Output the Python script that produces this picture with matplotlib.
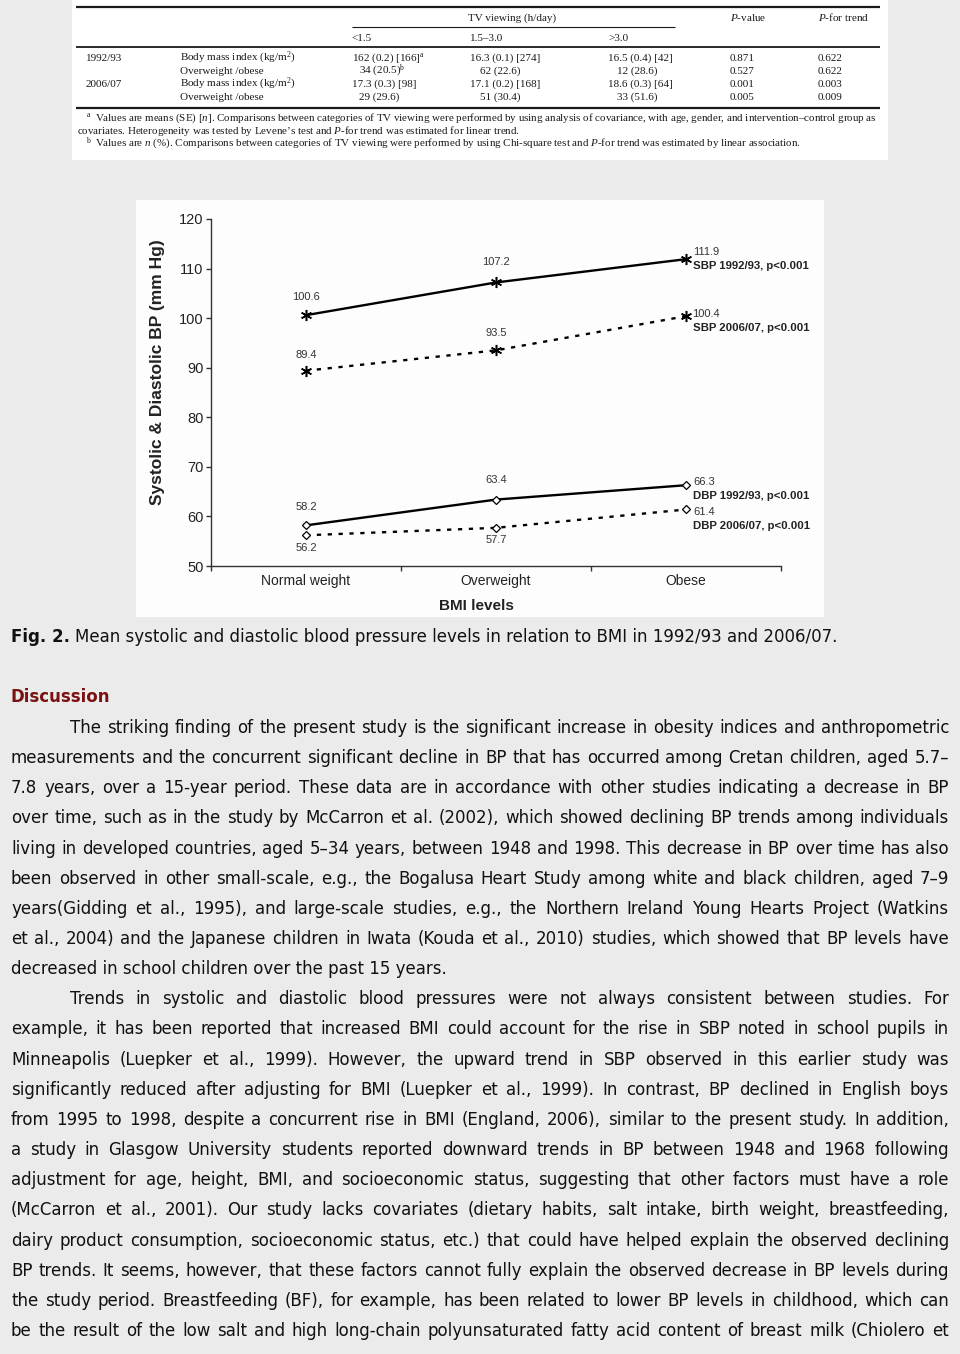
import matplotlib
matplotlib.use('Agg')
import matplotlib.pyplot as plt
from matplotlib.patches import Rectangle
from matplotlib.lines import Line2D

# ---------------- data ----------------
categories = ['Normal weight', 'Overweight', 'Obese']
sbp_1992 = [100.6, 107.2, 111.9]
sbp_2006 = [89.4, 93.5, 100.4]
dbp_1992 = [58.2, 63.4, 66.3]
dbp_2006 = [56.2, 57.7, 61.4]
series_names = ['SBP 1992/93, p<0.001', 'SBP 2006/07, p<0.001',
                'DBP 1992/93, p<0.001', 'DBP 2006/07, p<0.001']
y_ticks = [50, 60, 70, 80, 90, 100, 110, 120]

tv_groups = ['<1.5', '1.5\u20133.0', '>3.0']
table_rows = [
    ['1992/93', 'Body mass index (kg/m$^{2}$)', '162 (0.2) [166]$^{\\mathrm{a}}$', '16.3 (0.1) [274]', '16.5 (0.4) [42]', '0.871', '0.622'],
    ['', 'Overweight /obese', '34 (20.5)$^{\\mathrm{b}}$', '62 (22.6)', '12 (28.6)', '0.527', '0.622'],
    ['2006/07', 'Body mass index (kg/m$^{2}$)', '17.3 (0.3) [98]', '17.1 (0.2) [168]', '18.6 (0.3) [64]', '0.001', '0.003'],
    ['', 'Overweight /obese', '29 (29.6)', '51 (30.4)', '33 (51.6)', '0.005', '0.009'],
]

caption_bold = 'Fig. 2.'
caption_rest = 'Mean systolic and diastolic blood pressure levels in relation to BMI in 1992/93 and 2006/07.'
heading = 'Discussion'
body_lines = [
    "The striking finding of the present study is the significant increase in obesity indices and anthropometric",
    "measurements and the concurrent significant decline in BP that has occurred among Cretan children, aged 5.7\u2013",
    "7.8 years, over a 15-year period. These data are in accordance with other studies indicating a decrease in BP",
    "over time, such as in the study by McCarron et al. (2002), which showed declining BP trends among individuals",
    "living in developed countries, aged 5\u201334 years, between 1948 and 1998. This decrease in BP over time has also",
    "been observed in other small-scale, e.g., the Bogalusa Heart Study among white and black children, aged 7\u20139",
    "years(Gidding et al., 1995), and large-scale studies, e.g., the Northern Ireland Young Hearts Project (Watkins",
    "et al., 2004) and the Japanese children in Iwata (Kouda et al., 2010) studies, which showed that BP levels have",
    "decreased in school children over the past 15 years.",
    "Trends in systolic and diastolic blood pressures were not always consistent between studies. For",
    "example, it has been reported that increased BMI could account for the rise in SBP noted in school pupils in",
    "Minneapolis (Luepker et al., 1999). However, the upward trend in SBP observed in this earlier study was",
    "significantly reduced after adjusting for BMI (Luepker et al., 1999). In contrast, BP declined in English boys",
    "from 1995 to 1998, despite a concurrent rise in BMI (England, 2006), similar to the present study. In addition,",
    "a study in Glasgow University students reported downward trends in BP between 1948 and 1968 following",
    "adjustment for age, height, BMI, and socioeconomic status, suggesting that other factors must have a role",
    "(McCarron et al., 2001). Our study lacks covariates (dietary habits, salt intake, birth weight, breastfeeding,",
    "dairy product consumption, socioeconomic status, etc.) that could have helped explain the observed declining",
    "BP trends. It seems, however, that these factors cannot fully explain the observed decrease in BP levels during",
    "the study period. Breastfeeding (BF), for example, has been related to lower BP levels in childhood, which can",
    "be the result of the low salt and high long-chain polyunsaturated fatty acid content of breast milk (Chiolero et",
]
indent_lines = {0, 9}
last_lines = {8}

# ---------------- figure ----------------
plt.rcParams['mathtext.fontset'] = 'custom'
plt.rcParams['mathtext.rm'] = 'Liberation Serif'
plt.rcParams['mathtext.it'] = 'Liberation Serif:italic'
plt.rcParams['mathtext.bf'] = 'Liberation Serif:bold'

W, H = 960, 1354
fig = plt.figure(figsize=(W / 100, H / 100), dpi=100, facecolor='#ebebeb')
renderer = fig.canvas.get_renderer()


def fx(x):
    return x / W


def fy(y):
    return 1 - y / H


def hline(x0, x1, y, lw, color='#1a1a1a'):
    fig.add_artist(Line2D([fx(x0), fx(x1)], [fy(y), fy(y)], transform=fig.transFigure,
                          color=color, lw=lw, solid_capstyle='butt'))


# ---------- table image ----------
fig.add_artist(Rectangle((fx(72), fy(160)), (888 - 72) / W, 162 / H, transform=fig.transFigure,
                         facecolor='white', edgecolor='none', zorder=-5))
tk = dict(family='Liberation Serif', fontsize=8.0, color='#1a1a1a', va='baseline')
hline(76, 880, 7, 1.6)
hline(352, 675, 27, 0.8)
hline(76, 880, 47, 1.3)
hline(76, 880, 108, 1.6)
fig.text(fx(512), fy(21), 'TV viewing (h/day)', ha='center', **tk)
fig.text(fx(730), fy(21), '$\\mathit{P}$-value', ha='left', **tk)
fig.text(fx(818), fy(21), '$\\mathit{P}$-for trend', ha='left', **tk)
for gx, g in zip([352, 470, 608], tv_groups):
    fig.text(fx(gx), fy(41), g, ha='left', **tk)
row_y = [61, 74, 87, 100]
col_left_bmi = [352, 470, 608]
col_left_n = [359, 480, 617]
for r, ry in zip(table_rows, row_y):
    is_n = r[1].startswith('Overweight')
    fig.text(fx(86), fy(ry), r[0], ha='left', **tk)
    fig.text(fx(180), fy(ry), r[1], ha='left', **tk)
    lefts = col_left_n if is_n else col_left_bmi
    for cx, val in zip(lefts, r[2:5]):
        fig.text(fx(cx), fy(ry), val, ha='left', **tk)
    fig.text(fx(730), fy(ry), r[5], ha='left', **tk)
    fig.text(fx(818), fy(ry), r[6], ha='left', **tk)
fn = dict(tk, fontsize=7.95)
fig.text(fx(86), fy(118), '$^{\\mathrm{a}}$', ha='left', **fn)
fig.text(fx(95), fy(121), 'Values are means (SE) [$\\mathit{n}$]. Comparisons between categories of TV viewing were performed by using analysis of covariance, with age, gender, and intervention\u2013control group as', ha='left', **fn)
fig.text(fx(77), fy(134), 'covariates. Heterogeneity was tested by Levene\u2019s test and $\\mathit{P}$-for trend was estimated for linear trend.', ha='left', **fn)
fig.text(fx(86), fy(143), '$^{\\mathrm{b}}$', ha='left', **fn)
fig.text(fx(95), fy(146), 'Values are $\\mathit{n}$ (%). Comparisons between categories of TV viewing were performed by using Chi-square test and $\\mathit{P}$-for trend was estimated by linear association.', ha='left', **fn)

# ---------- chart ----------
fig.add_artist(Rectangle((fx(136), fy(617)), (824 - 136) / W, (617 - 200) / H, transform=fig.transFigure,
                         facecolor='#fdfdfd', edgecolor='none', zorder=-5))
ax = fig.add_axes([fx(211), fy(566), 570 / W, 347 / H])
ax.set_zorder(2)
ax.set_facecolor('none')
ax.set_xlim(0, 3)
ax.set_ylim(50, 120)
xpos = [0.5, 1.5, 2.5]
dash = (0, (1.8, 2.8))
star = (6, 2, 0)
ax.plot(xpos, sbp_1992, color='black', lw=1.7, marker=star, ms=8, mew=1.1)
ax.plot(xpos, sbp_2006, color='black', lw=1.7, ls=dash, marker=star, ms=8, mew=1.1)
ax.plot(xpos, dbp_1992, color='black', lw=1.7, marker='D', ms=3.8, mfc='white', mec='black', mew=0.9)
ax.plot(xpos, dbp_2006, color='black', lw=1.7, ls=dash, marker='D', ms=3.8, mfc='white', mec='black', mew=0.9)

for s in ['top', 'right']:
    ax.spines[s].set_visible(False)
for s in ['left', 'bottom']:
    ax.spines[s].set_color('#333333')
    ax.spines[s].set_linewidth(1.0)
ax.set_yticks(y_ticks)
ax.set_yticklabels([str(v) for v in y_ticks], family='Liberation Sans', fontsize=10.5, color='#222222')
ax.set_xticks([0, 1, 2, 3])
ax.set_xticklabels([])
ax.set_xticks(xpos, minor=True)
ax.set_xticklabels(categories, minor=True, family='Liberation Sans', fontsize=10, color='#222222')
ax.tick_params(axis='y', direction='out', length=3.5, width=1.0, color='#333333', pad=2)
ax.tick_params(axis='x', which='major', direction='out', length=3.5, width=1.0, color='#333333')
ax.tick_params(axis='x', which='minor', length=0, pad=6)
ax.set_ylabel('Systolic & Diastolic BP (mm Hg)', family='Liberation Sans', fontsize=12.5,
              fontweight='bold', color='#222222', va='center')
ax.yaxis.set_label_coords(-0.093, 0.56)
ax.text(0.465, -0.115, 'BMI levels', transform=ax.transAxes, ha='center', va='center',
        family='Liberation Sans', fontsize=11, fontweight='bold', color='#222222')

vk = dict(family='Liberation Sans', fontsize=8.0, color='#333333', textcoords='offset pixels')
offsets = {
    0: [(0, 18), (0, 20)],
    1: [(0, 16), (0, 17)],
    2: [(0, 18), (0, 20)],
    3: [(0, -13), (0, -12)],
}
all_series = [sbp_1992, sbp_2006, dbp_1992, dbp_2006]
for i, ser in enumerate(all_series):
    for j in range(2):
        ax.annotate(f'{ser[j]:.1f}', (xpos[j], ser[j]), xytext=offsets[i][j],
                    ha='center', va='center', **vk)
right_off = [(7, 7, -7), (6, 2, -12), (7, 3, -11), (7, -3, -17)]
for i, ser in enumerate(all_series):
    dx, dy1, dy2 = right_off[i]
    ax.annotate(f'{ser[2]:.1f}', (xpos[2], ser[2]), xytext=(dx, dy1), ha='left', va='center', **vk)
    ax.annotate(series_names[i], (xpos[2], ser[2]), xytext=(7, dy2), ha='left', va='center',
                textcoords='offset pixels', family='Liberation Sans', fontsize=8.2,
                fontweight='bold', color='#222222')

# ---------- text ----------
BODY = dict(family='DejaVu Sans', fontsize=12, color='#111111', va='baseline', ha='left')
t1 = fig.text(fx(11), fy(642), caption_bold, fontweight='bold', **BODY)
w1 = t1.get_window_extent(renderer).width
fig.text(fx(11 + w1 + 5), fy(642), caption_rest, **BODY)
fig.text(fx(11), fy(702), heading, fontweight='bold', **dict(BODY, color='#7a1212'))


def place_line(text, y, x0, x1, justify):
    if not justify:
        fig.text(fx(x0), fy(y), text, **BODY)
        return
    words = text.split(' ')
    objs = [fig.text(fx(x0), fy(y), w, **BODY) for w in words]
    widths = [o.get_window_extent(renderer).width for o in objs]
    gap = (x1 - x0 - sum(widths)) / (len(words) - 1)
    x = x0
    for o, w in zip(objs, widths):
        o.set_x(fx(x))
        x += w + gap


for i, line in enumerate(body_lines):
    y = 733 + i * 30.15
    x0 = 70 if i in indent_lines else 11
    place_line(line, y, x0, 949, i not in last_lines)

fig.savefig('out.png', dpi=100, facecolor=fig.get_facecolor())
